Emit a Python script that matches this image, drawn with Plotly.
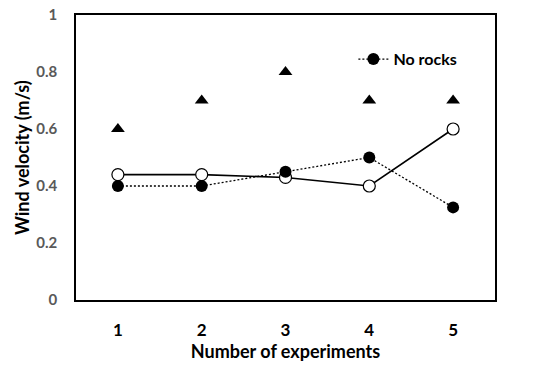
import plotly.graph_objects as go

experiments = [1, 2, 3, 4, 5]
triangle_vals = [0.6, 0.7, 0.8, 0.7, 0.7]
no_rocks_vals = [0.40, 0.40, 0.45, 0.50, 0.325]
open_vals = [0.44, 0.44, 0.43, 0.40, 0.60]
x_ticks = [1, 2, 3, 4, 5]
y_ticks = [0, 0.2, 0.4, 0.6, 0.8, 1]
y_tick_labels = ["0", "0.2", "0.4", "0.6", "0.8", "1"]

FONT = "Lato, 'Open Sans', sans-serif"

fig = go.Figure()
fig.add_trace(go.Scatter(
    x=experiments, y=triangle_vals, mode="markers", name="Rocks",
    marker=dict(symbol="triangle-up", size=12, color="black"),
    showlegend=False, cliponaxis=False))
fig.add_trace(go.Scatter(
    x=experiments, y=open_vals, mode="lines+markers", name="Open",
    line=dict(color="black", width=1.6),
    marker=dict(symbol="circle", size=12, color="white", line=dict(color="black", width=1.2)),
    showlegend=False, cliponaxis=False))
fig.add_trace(go.Scatter(
    x=experiments, y=no_rocks_vals, mode="lines+markers", name="No rocks",
    line=dict(color="black", width=1.3, dash="2px,2px"),
    marker=dict(symbol="circle", size=12, color="black"),
    showlegend=True, cliponaxis=False))

fig.add_annotation(
    text="Wind velocity (m/s)", textangle=-90, showarrow=False,
    xref="paper", yref="paper", x=-0.13, y=0.5, xanchor="center", yanchor="middle",
    font=dict(family=FONT, size=18, color="black", weight="bold"))

fig.update_layout(
    width=549, height=369,
    margin=dict(l=76, r=54, t=15, b=69, autoexpand=False),
    plot_bgcolor="white", paper_bgcolor="white",
    font=dict(family=FONT, color="black"),
    legend=dict(x=0.662, y=0.845, xanchor="left", yanchor="middle",
                bgcolor="rgba(0,0,0,0)",
                font=dict(family=FONT, size=16, color="black", weight="bold")),
    xaxis=dict(range=[0.5, 5.5], tickvals=x_ticks, showgrid=False, zeroline=False,
               showline=True, mirror=True, linecolor="black", linewidth=1.5,
               ticks="", ticklabelstandoff=14, automargin=False,
               tickfont=dict(family=FONT, size=17, color="black", weight="bold"),
               title=dict(text="Number of experiments", standoff=2,
                          font=dict(family=FONT, size=18, color="black", weight="bold"))),
    yaxis=dict(range=[0, 1], tickvals=y_ticks, ticktext=y_tick_labels, showgrid=False,
               zeroline=False, showline=True, mirror=True, linecolor="black", linewidth=1.5,
               ticks="", ticklabelstandoff=14, automargin=False,
               tickfont=dict(family=FONT, size=15, color="#595959", weight="bold")),
)

fig.write_html("out.html", config={"displayModeBar": False},
               post_script="document.body.style.margin='0';document.body.style.overflow='hidden';")
